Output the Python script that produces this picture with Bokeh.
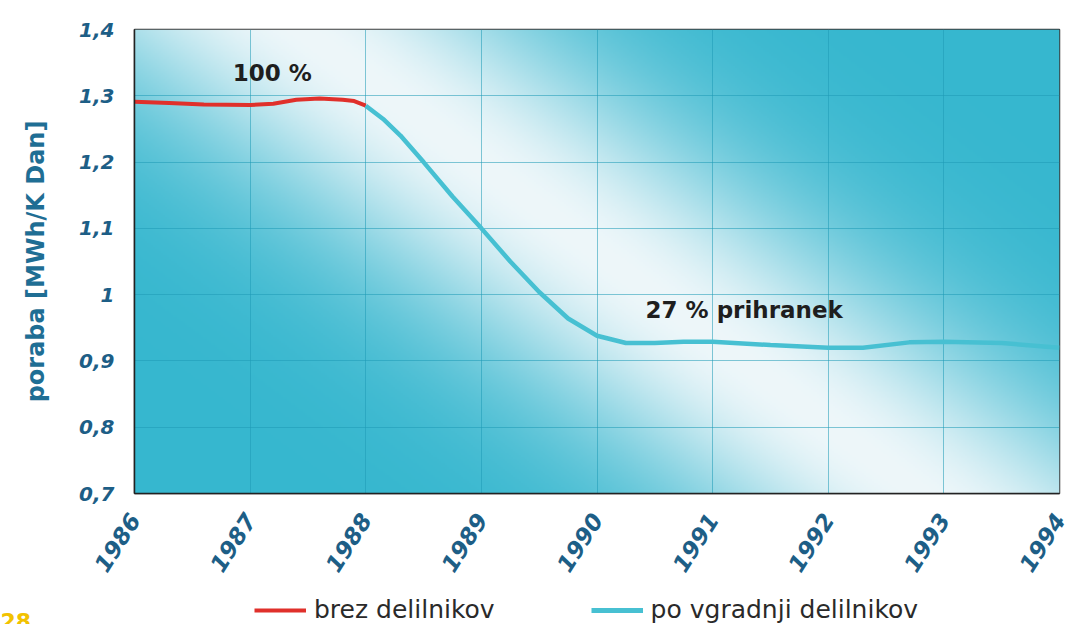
import numpy as np
from bokeh.plotting import figure
from bokeh.layouts import column
from bokeh.models import FixedTicker, Legend, LegendItem, Label, Range1d
from bokeh.embed import file_html
from bokeh.resources import INLINE

# ---- data ----
years_before = [1986.0, 1986.3, 1986.6, 1987.0, 1987.2, 1987.4, 1987.6, 1987.8, 1987.9, 1988.0]
cons_before = [1.291, 1.289, 1.287, 1.286, 1.288, 1.294, 1.296, 1.294, 1.292, 1.285]

years_after = [1988.0, 1988.15, 1988.3, 1988.5, 1988.75, 1989.0, 1989.25, 1989.5, 1989.75,
               1990.0, 1990.25, 1990.5, 1990.75, 1991.0, 1991.5, 1992.0, 1992.3, 1992.7,
               1993.0, 1993.5, 1994.0]
cons_after = [1.285, 1.265, 1.240, 1.200, 1.148, 1.100, 1.050, 1.004, 0.964,
              0.938, 0.927, 0.927, 0.929, 0.929, 0.924, 0.920, 0.920, 0.928,
              0.929, 0.927, 0.920]

x_ticks = [1986, 1987, 1988, 1989, 1990, 1991, 1992, 1993, 1994]
y_ticks = [0.7, 0.8, 0.9, 1.0, 1.1, 1.2, 1.3, 1.4]
y_tick_labels = ["0,7", "0,8", "0,9", "1", "1,1", "1,2", "1,3", "1,4"]

label_before = "brez delilnikov"
label_after = "po vgradnji delilnikov"
note_before = "100 %"
note_after = "27 % prihranek"
page_number = "28"

FONT = "DejaVu Sans"
TICK_COLOR = "#1d5e86"
RED = "#e0302b"
CYAN = "#47c0d2"

p = figure(width=1067, height=585, output_backend="svg", toolbar_location=None,
           x_range=Range1d(x_ticks[0], x_ticks[-1]), y_range=Range1d(y_ticks[0], y_ticks[-1]),
           min_border_left=134, min_border_top=29, min_border_right=8, min_border_bottom=92,
           background_fill_color="white", border_fill_color="white")
p.frame_align = False

# ---- gradient background (style only) ----
W, H = 463, 232
xs = (np.arange(W)[None, :] + 0.5) * (925 / W)
ys = (np.arange(H)[:, None] + 0.5) * (464 / H)
dx, dy = 620.0, 464.0
L = np.hypot(dx, dy)
d = np.abs((xs - 166.0) * dy - ys * dx) / L
t = np.exp(-(d / 150.0) ** 2)
teal = np.array([54, 183, 207], dtype=float)
white = np.array([238, 247, 250], dtype=float)
rgb = teal[None, None, :] * (1 - t)[..., None] + white[None, None, :] * t[..., None]
rgb = rgb[::-1]
img = np.empty((H, W), dtype=np.uint32)
view = img.view(dtype=np.uint8).reshape((H, W, 4))
view[..., 0] = rgb[..., 0].astype(np.uint8)
view[..., 1] = rgb[..., 1].astype(np.uint8)
view[..., 2] = rgb[..., 2].astype(np.uint8)
view[..., 3] = 255
p.image_rgba(image=[img], x=x_ticks[0], y=y_ticks[0], dw=x_ticks[-1] - x_ticks[0],
             dh=y_ticks[-1] - y_ticks[0], level="image")

# ---- lines ----
p.line(years_before, cons_before, line_color=RED, line_width=4)
p.line(years_after, cons_after, line_color=CYAN, line_width=4.5)

# ---- annotations ----
p.add_layout(Label(x=1986.85, y=1.335, text=note_before, text_font=FONT,
                   text_font_style="bold", text_font_size="23px", text_color="#1e1e1e",
                   text_baseline="middle", text_align="left"))
p.add_layout(Label(x=1990.42, y=0.977, text=note_after, text_font=FONT,
                   text_font_style="bold", text_font_size="23px", text_color="#1e1e1e",
                   text_baseline="middle", text_align="left"))

# ---- axes ----
p.xaxis.ticker = FixedTicker(ticks=x_ticks)
p.yaxis.ticker = FixedTicker(ticks=y_ticks)
p.yaxis.major_label_overrides = {v: s for v, s in zip(y_ticks, y_tick_labels)}
for ax in (p.xaxis, p.yaxis):
    ax.axis_line_color = "#222222"
    ax.axis_line_width = 1.5
    ax.major_tick_out = 0
    ax.major_tick_in = 0
    ax.major_tick_line_color = None
    ax.minor_tick_line_color = None
    ax.major_label_text_font = FONT
    ax.major_label_text_font_style = "bold italic"
    ax.major_label_text_color = TICK_COLOR
p.yaxis.major_label_text_font_size = "20px"
p.xaxis.major_label_text_font_size = "23px"
p.xaxis.major_label_orientation = 1.0
p.xaxis.major_label_standoff = 22
p.yaxis.major_label_standoff = 20
p.yaxis.axis_label = "poraba [MWh/K Dan]"
p.yaxis.axis_label_text_font = FONT
p.yaxis.axis_label_text_font_style = "bold"
p.yaxis.axis_label_text_font_size = "24px"
p.yaxis.axis_label_text_color = "#1f6e94"
p.yaxis.axis_label_standoff = 26

p.xgrid.grid_line_color = "#1f9ab6"
p.xgrid.grid_line_alpha = 0.55
p.ygrid.grid_line_color = "#1f9ab6"
p.ygrid.grid_line_alpha = 0.55
p.outline_line_color = "#3a3a3a"
p.outline_line_width = 1.5

# ---- legend strip below the chart ----
s = figure(width=1067, height=39, output_backend="svg", toolbar_location=None,
           x_range=Range1d(0, 1067), y_range=Range1d(0, 39),
           x_axis_type=None, y_axis_type=None,
           min_border=0, min_border_left=0, min_border_right=0,
           min_border_top=0, min_border_bottom=0,
           background_fill_color="white", border_fill_color="white", outline_line_color=None)
s.frame_align = False
s.xgrid.visible = False
s.ygrid.visible = False
# same series (outside this strip's visible range) to supply the legend swatches
k1 = s.line(years_before, cons_before, line_color=RED, line_width=4)
k2 = s.line(years_after, cons_after, line_color=CYAN, line_width=5)
legend = Legend(items=[LegendItem(label=label_before, renderers=[k1]),
                       LegendItem(label=label_after, renderers=[k2])],
                orientation="horizontal", location=(254, 0),
                label_text_font=FONT, label_text_font_size="25px", label_text_color="#2a2a2a",
                glyph_width=52, glyph_height=28, spacing=96, padding=0, margin=0,
                label_standoff=8, label_height=28,
                border_line_color=None, background_fill_alpha=0)
s.add_layout(legend, "center")
s.add_layout(Label(x=0, y=12, text=page_number, text_font=FONT, text_font_style="bold",
                   text_font_size="22px", text_color="#f2c200", text_baseline="top"))

layout = column(p, s, spacing=0)
open("out.html", "w").write(file_html(layout, INLINE))
